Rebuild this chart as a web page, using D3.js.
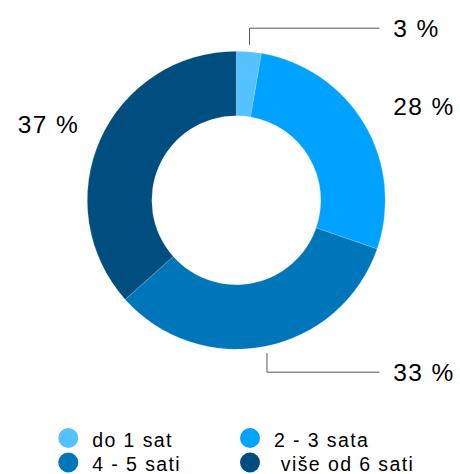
<!DOCTYPE html>
<html>
<head>
<meta charset="utf-8">
<script src="https://cdn.jsdelivr.net/npm/d3@7"></script>
<style>
  body { margin: 0; background: #fff; }
  svg { display: block; }
  text { font-family: Helvetica, Arial, "Liberation Sans", sans-serif; fill: #000; }
</style>
</head>
<body>
<svg id="chart" width="460" height="474"></svg>
<script>
// categories and shares (percent)
const categories = ["do 1 sat", "2 - 3 sata", "4 - 5 sati", " više od 6 sati"];
const shares = [2.7, 27.6, 33.1, 36.6];
const colors = ["#56C1FF", "#00A2FF", "#0076BA", "#004D7F"];

const width = 460,
  height = 474;
const cx = 236.3,
  cy = 200.2;
const outerR = 149,
  innerR = 84.5;

const svg = d3.select("#chart");

const data = categories.map((c, i) => ({ name: c, value: shares[i], color: colors[i] }));

const pie = d3
  .pie()
  .value((d) => d.value)
  .sort(null)
  .startAngle(0)
  .endAngle(2 * Math.PI);

const arc = d3.arc().innerRadius(innerR).outerRadius(outerR);

const arcs = pie(data);

const g = svg.append("g").attr("transform", "translate(" + cx + "," + cy + ")");

// donut slices
g.selectAll("path.slice")
  .data(arcs)
  .join("path")
  .attr("class", "slice")
  .attr("d", arc)
  .attr("fill", (d) => d.data.color)
  .attr("stroke", "rgba(255,255,255,0.35)")
  .attr("stroke-width", 0.5);

// labels: small slices get a leader line, others sit next to the ring
const labelR = 185; // radius used for plain labels
const leaderStartR = outerR + 7;
const leaderLabelDy = 172; // vertical distance of leader labels from centre
const column = 157; // label column offset from centre

const midAngle = (d) => (d.startAngle + d.endAngle) / 2;

arcs.forEach(function (d) {
  var a = midAngle(d);
  var sx = Math.sin(a),
    sy = -Math.cos(a);
  var right = sx >= 0;
  var label = Math.round(d.data.value) + " %";
  var lx, ly;

  if (d.data.value < 5 || Math.abs(sy) > 0.95) {
    // leader line: out from the ring, vertical, then horizontal to label column
    var x0 = leaderStartR * sx,
      y0 = leaderStartR * sy;
    ly = (sy < 0 ? -1 : 1) * leaderLabelDy;
    lx = right ? column : -column;
    g.append("path")
      .attr("d", d3.line()([[x0, y0], [x0, ly], [lx - (right ? 14 : -14), ly]]))
      .attr("fill", "none")
      .attr("stroke", "#555")
      .attr("stroke-width", 1);
  } else {
    ly = labelR * sy;
    lx = right ? column : -column;
  }

  g.append("text")
    .attr("x", lx)
    .attr("y", ly)
    .attr("dy", "0.36em")
    .attr("text-anchor", right ? "start" : "end")
    .style("font-size", "24.5px")
    .style("letter-spacing", "1.4px")
    .text(label);
});

// legend, two columns
const legendX = 68.3,
  legendY = 438,
  colW = 181.7,
  rowH = 24.5;

const legend = svg
  .append("g")
  .selectAll("g")
  .data(data)
  .join("g")
  .attr("transform", (d, i) =>
    "translate(" + (legendX + (i % 2) * colW) + "," + (legendY + Math.floor(i / 2) * rowH) + ")"
  );

legend.append("circle").attr("r", 10).attr("fill", (d) => d.color);

legend
  .append("text")
  .attr("x", 24)
  .attr("dy", 8.5)
  .style("font-size", "19.5px")
  .style("letter-spacing", "1.4px")
  .style("white-space", "pre")
  .text((d) => d.name);
</script>
</body>
</html>
